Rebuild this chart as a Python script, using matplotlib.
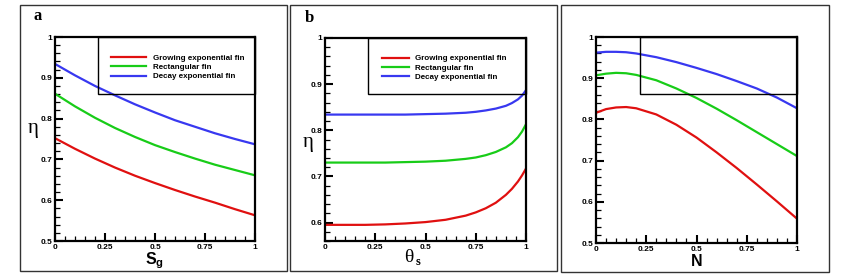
import numpy as np
import matplotlib
matplotlib.use("Agg")
from matplotlib import pyplot as plt
from matplotlib.patches import Rectangle
from matplotlib.ticker import MultipleLocator

# Data
sg = [0, 0.1, 0.2, 0.3, 0.4, 0.5, 0.6, 0.7, 0.8, 0.9, 1.0]
sg_grow = [0.752, 0.726, 0.702, 0.680, 0.660, 0.642, 0.625, 0.609, 0.594, 0.578, 0.563]
sg_rect = [0.861, 0.830, 0.802, 0.777, 0.755, 0.735, 0.718, 0.702, 0.687, 0.674, 0.661]
sg_decay = [0.934, 0.906, 0.880, 0.857, 0.835, 0.815, 0.796, 0.780, 0.764, 0.750, 0.737]

theta = [0, 0.1, 0.2, 0.3, 0.4, 0.5, 0.6, 0.7, 0.75, 0.8, 0.85, 0.9, 0.93, 0.96, 0.98, 1.0]
th_grow = [0.595, 0.595, 0.595, 0.596, 0.598, 0.601, 0.606, 0.615, 0.622, 0.631, 0.643,
           0.660, 0.673, 0.689, 0.702, 0.717]
th_rect = [0.730, 0.730, 0.730, 0.730, 0.731, 0.732, 0.734, 0.738, 0.741, 0.746, 0.753,
           0.763, 0.772, 0.785, 0.797, 0.813]
th_decay = [0.834, 0.834, 0.834, 0.834, 0.834, 0.835, 0.836, 0.838, 0.840, 0.843, 0.847,
            0.853, 0.859, 0.867, 0.875, 0.887]

n = [0, 0.05, 0.1, 0.15, 0.2, 0.3, 0.4, 0.5, 0.6, 0.7, 0.8, 0.9, 1.0]
n_grow = [0.816, 0.825, 0.829, 0.830, 0.827, 0.812, 0.787, 0.756, 0.720, 0.682, 0.642, 0.601, 0.559]
n_rect = [0.907, 0.911, 0.913, 0.912, 0.908, 0.895, 0.875, 0.852, 0.826, 0.798, 0.769, 0.740, 0.711]
n_decay = [0.962, 0.964, 0.964, 0.963, 0.960, 0.951, 0.939, 0.925, 0.910, 0.893, 0.875, 0.853, 0.827]

labels = ["Growing exponential fin", "Rectangular fin", "Decay exponential fin"]
colors = ["#e01010", "#18cc18", "#3838f0"]

W, H = 858, 278
plt.rcParams['mathtext.fontset'] = 'custom'
plt.rcParams['mathtext.bf'] = 'Liberation Sans:bold'
plt.rcParams['mathtext.rm'] = 'Liberation Sans:bold'
plt.rcParams['mathtext.it'] = 'Liberation Sans:bold'

fig = plt.figure(figsize=(W / 100, H / 100), dpi=100)


def px_axes(x0, y0, x1, y1):
	return fig.add_axes([x0 / W, 1 - y1 / H, (x1 - x0) / W, (y1 - y0) / H])


def fig_text(x, y, s, **kw):
	fig.text(x / W, 1 - y / H, s, ha='center', va='center', **kw)


def panel_box(x0, y0, x1, y1):
	fig.patches.append(Rectangle((x0 / W, 1 - y1 / H), (x1 - x0) / W, (y1 - y0) / H,
		transform=fig.transFigure, fill=False, ec='#333333', lw=1.0))


def style_axes(ax, ymin):
	ax.set_xlim(0, 1)
	ax.set_ylim(ymin, 1)
	ax.xaxis.set_major_locator(MultipleLocator(0.25))
	ax.xaxis.set_minor_locator(MultipleLocator(0.05))
	ax.yaxis.set_major_locator(MultipleLocator(0.1))
	ax.yaxis.set_minor_locator(MultipleLocator(0.02))
	ax.xaxis.set_major_formatter(lambda v, p: "%g" % v)
	ax.yaxis.set_major_formatter(lambda v, p: "%g" % v)
	ax.tick_params(which='both', direction='in', top=False, right=False)
	ax.tick_params(which='major', length=6, width=1.5, pad=2, labelsize=6)
	ax.tick_params(which='minor', length=3.5, width=0.9)
	for lab in ax.get_xticklabels() + ax.get_yticklabels():
		lab.set_fontfamily('Liberation Sans')
		lab.set_fontweight('bold')
	for sp in ax.spines.values():
		sp.set_linewidth(1.6)


def legend_box(ax, xleft, ybottom, entries, anchor, hlen):
	ax.add_patch(Rectangle((xleft, ybottom), 1 - xleft, 1 - ybottom,
		fill=False, ec='black', lw=1.0, zorder=5, clip_on=False))
	if entries:
		ax.legend(loc='upper left', bbox_to_anchor=anchor, frameon=False,
			prop={'family': 'Liberation Sans', 'weight': 'bold', 'size': 5.8},
			handlelength=hlen, handletextpad=0.8, labelspacing=0.22,
			borderpad=0, borderaxespad=0)


panel_box(20, 5, 287, 271)
panel_box(290, 5, 557, 271)
panel_box(561, 5, 829, 272)

# Panel a
ax = px_axes(55, 37, 255, 241)
for y, c, l in zip([sg_grow, sg_rect, sg_decay], colors, labels):
	ax.plot(sg, y, color=c, lw=1.6, label=l)
style_axes(ax, 0.5)
legend_box(ax, 0.215, 0.86, True, (0.28, 0.917), 4.4)
fig_text(37.5, 16, "a", family='Liberation Serif', weight='bold', size=12)
fig_text(33, 129, "η", family='Liberation Serif', size=15)
fig_text(154, 261, r"$\mathbf{S_g}$", size=11.5)

# Panel b
ax = px_axes(325, 38, 526, 241)
for y, c, l in zip([th_grow, th_rect, th_decay], colors, labels):
	ax.plot(theta, y, color=c, lw=1.6, label=l)
style_axes(ax, 0.56)
legend_box(ax, 0.214, 0.878, True, (0.284, 0.917), 3.3)
fig_text(309, 17.5, "b", family='Liberation Serif', weight='bold', size=12)
fig_text(308, 143, "η", family='Liberation Serif', size=15)
fig_text(409, 257, "θ", family='Liberation Serif', size=14)
fig_text(418, 262, "s", family='Liberation Serif', weight='bold', size=9)

# Panel c
ax = px_axes(596, 37, 797, 243)
for y, c, l in zip([n_grow, n_rect, n_decay], colors, labels):
	ax.plot(n, y, color=c, lw=1.6, label=l)
style_axes(ax, 0.5)
legend_box(ax, 0.219, 0.862, False, None, 0)
fig_text(697, 262, "N", family='Liberation Sans', weight='bold', size=11.5)

plt.savefig("out.png", dpi=100)
